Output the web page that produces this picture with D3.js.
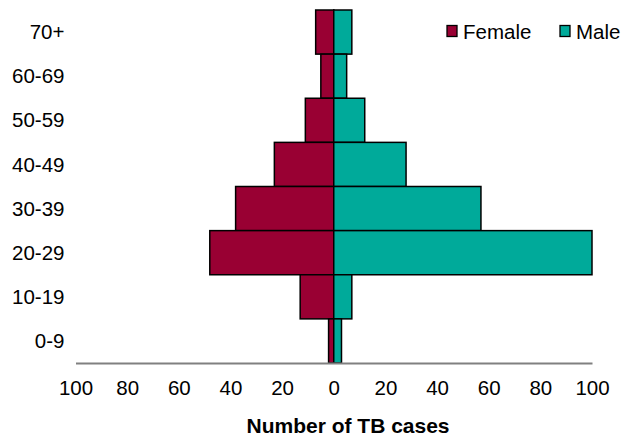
<!DOCTYPE html>
<html>
<head>
<meta charset="utf-8">
<script src="https://cdn.jsdelivr.net/npm/d3@7"></script>
<style>
  html, body { margin: 0; padding: 0; background: #fff; }
  svg { display: block; font-family: "Liberation Sans", Arial, sans-serif; }
</style>
</head>
<body>
<svg id="chart" width="622" height="436"></svg>
<script>
// Age groups, top to bottom
const ageGroups = ["70+", "60-69", "50-59", "40-49", "30-39", "20-29", "10-19", "0-9"];
// Number of TB cases per age group
const femaleCases = [7, 5, 11, 23, 38, 48, 13, 2];
const maleCases   = [7, 5, 12, 28, 57, 100, 7, 3];
const xTicks = [-100, -80, -60, -40, -20, 0, 20, 40, 60, 80, 100];
const seriesNames = ["Female", "Male"];
const seriesColors = ["#990033", "#00AA9A"];

const svg = d3.select("#chart");
const margin = { left: 75.5, right: 30, top: 10, bottom: 73 };
const W = 622, H = 436;
const fontSize = 20.5;

const x = d3.scaleLinear().domain([-100, 100]).range([margin.left, W - margin.right]);
const y = d3.scaleBand().domain(ageGroups).range([margin.top, H - margin.bottom]).padding(0);

// Zero reference line behind bars
svg.append("line")
  .attr("x1", x(0)).attr("x2", x(0))
  .attr("y1", margin.top - 1).attr("y2", H - margin.bottom)
  .attr("stroke", "#808080").attr("stroke-width", 1.5);

const rows = ageGroups.map((g, i) => ({ g, f: femaleCases[i], m: maleCases[i] }));

// Female bars extend left of zero
svg.append("g").selectAll("rect").data(rows).join("rect")
  .attr("x", d => x(-d.f))
  .attr("y", d => y(d.g))
  .attr("width", d => x(0) - x(-d.f))
  .attr("height", y.bandwidth())
  .attr("fill", seriesColors[0])
  .attr("stroke", "#000").attr("stroke-width", 1.5);

// Male bars extend right of zero
svg.append("g").selectAll("rect").data(rows).join("rect")
  .attr("x", x(0))
  .attr("y", d => y(d.g))
  .attr("width", d => x(d.m) - x(0))
  .attr("height", y.bandwidth())
  .attr("fill", seriesColors[1])
  .attr("stroke", "#000").attr("stroke-width", 1.5);

// Bottom axis with absolute-value labels
const xAxis = d3.axisBottom(x).tickValues(xTicks).tickSize(0).tickPadding(17.5)
  .tickFormat(d => Math.abs(d));
const gx = svg.append("g").attr("transform", `translate(0,${H - margin.bottom})`).call(xAxis);
gx.select(".domain").attr("stroke", "#808080").attr("stroke-width", 2);
gx.selectAll("text").attr("font-size", fontSize).attr("fill", "#000")
  .attr("font-family", "Liberation Sans, Arial, sans-serif");

// Category labels
svg.append("g").selectAll("text").data(ageGroups).join("text")
  .attr("x", 64.5)
  .attr("y", d => y(d) + y.bandwidth() / 2)
  .attr("dy", "0.35em")
  .attr("text-anchor", "end")
  .attr("font-size", fontSize)
  .text(d => d);

// Axis title
svg.append("text")
  .attr("x", 348).attr("y", 433)
  .attr("text-anchor", "middle")
  .attr("font-size", 21).attr("font-weight", "bold")
  .text("Number of TB cases");

// Legend
const legendX = [447, 560];
const lg = svg.append("g").selectAll("g").data(seriesNames).join("g")
  .attr("transform", (d, i) => `translate(${legendX[i]},25.5)`);
lg.append("rect").attr("width", 10).attr("height", 11)
  .attr("fill", (d, i) => seriesColors[i]).attr("stroke", "#000").attr("stroke-width", 1.3);
lg.append("text").attr("x", 16).attr("y", 6).attr("dy", "0.35em")
  .attr("font-size", fontSize).text(d => d);
</script>
</body>
</html>
